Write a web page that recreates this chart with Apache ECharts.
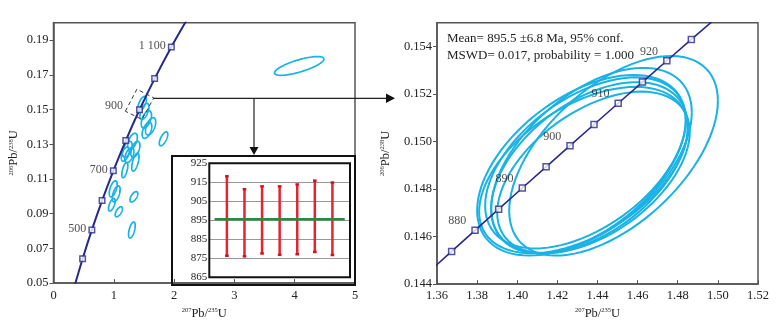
<!DOCTYPE html>
<html>
<head>
<meta charset="utf-8">
<script src="https://cdn.jsdelivr.net/npm/echarts@6/dist/echarts.min.js"></script>
<style>
html, body { margin: 0; padding: 0; background: #fff; }
#chart { width: 777px; height: 325px; }
</style>
</head>
<body>
<div id="chart"></div>
<script>
// left concordia (whole range), points every 100 Ma
const leftAges = [300, 400, 500, 600, 700, 800, 900, 1000, 1100, 1200];
const leftR75 = [0.3437, 0.4828, 0.6363, 0.8056, 0.9925, 1.1987, 1.4263, 1.6774, 1.9545, 2.2603];
const leftR68 = [0.04764, 0.06402, 0.08065, 0.09754, 0.1147, 0.13213, 0.14983, 0.1678, 0.18604, 0.2046];
const leftMarkAges = [400, 500, 600, 700, 800, 900, 1000, 1100];
const leftLabels = { 500: "500", 700: "700", 900: "900", 1100: "1 100" };

// left ellipses: centre x, half width x, centre y, half width y, rho
const leftEllX = [1.47, 1.508, 1.54, 1.61, 1.55, 1.825, 1.225, 1.31, 1.358, 1.258, 1.19, 1.358, 1.183, 0.99, 1.04, 0.967, 1.333, 1.083, 1.3, 4.075];
const leftEllSx = [0.07, 0.075, 0.085, 0.085, 0.08, 0.07, 0.08, 0.08, 0.075, 0.075, 0.065, 0.06, 0.05, 0.065, 0.065, 0.055, 0.065, 0.06, 0.055, 0.41];
const leftEllY = [0.1534, 0.1489, 0.1443, 0.1403, 0.138, 0.1331, 0.1271, 0.1317, 0.1271, 0.1237, 0.1243, 0.1197, 0.1151, 0.1043, 0.1014, 0.0951, 0.0997, 0.0911, 0.0806, 0.1751];
const leftEllSy = [0.0042, 0.0046, 0.005, 0.005, 0.0046, 0.004, 0.0046, 0.0046, 0.0046, 0.0043, 0.0041, 0.0052, 0.0044, 0.0046, 0.0046, 0.0036, 0.003, 0.0029, 0.0046, 0.0054];
const leftEllRho = [0.6, 0.55, 0.5, 0.5, 0.5, 0.65, 0.5, 0.5, 0.5, 0.5, 0.5, 0.6, 0.6, 0.55, 0.55, 0.6, 0.6, 0.6, 0.55, 0.74];

// dashed box around the zoomed part
const boxX = [1.192, 1.383, 1.663, 1.467, 1.192];
const boxY = [0.149, 0.1617, 0.1567, 0.1443, 0.149];

// inset: 206Pb/238U ages with error bars
const spotNo = [1, 2, 3, 4, 5, 6, 7];
const ageLow = [876.2, 875.9, 877.4, 876.7, 877, 878.2, 876.6];
const ageHigh = [918.3, 911.5, 913, 913, 914, 916, 915];
const meanAge = 895.5;
const meanFrom = 0.3, meanTo = 7.7;

// right concordia, points every 5 Ma
const rightAges = [865, 870, 875, 880, 885, 890, 895, 900, 905, 910, 915, 920, 925, 930, 935];
const rightR75 = [1.34409, 1.35566, 1.36729, 1.37897, 1.39072, 1.40252, 1.41438, 1.4263, 1.43827, 1.45031, 1.4624, 1.47456, 1.48678, 1.49905, 1.51139];
const rightR68 = [0.1436, 0.144488, 0.145375, 0.146264, 0.147153, 0.148043, 0.148934, 0.149825, 0.150717, 0.15161, 0.152503, 0.153398, 0.154294, 0.155189, 0.156085];
const rightMarkAges = [875, 880, 885, 890, 895, 900, 905, 910, 915, 920, 925];
const rightLabelAges = [880, 890, 900, 910, 920];

// right ellipses
const rightEllX = [1.448, 1.432, 1.434, 1.436, 1.433, 1.438, 1.437];
const rightEllSx = [0.052, 0.052, 0.05, 0.049, 0.052, 0.048, 0.05];
const rightEllY = [0.1494, 0.149, 0.1491, 0.1489, 0.1488, 0.1487, 0.1492];
const rightEllSy = [0.0042, 0.0038, 0.0036, 0.0036, 0.0035, 0.0034, 0.0039];
const rightEllRho = [0.55, 0.5, 0.5, 0.48, 0.5, 0.5, 0.52];

const leftYTicks = [0.05, 0.07, 0.09, 0.11, 0.13, 0.15, 0.17, 0.19];

const SERIF = '"Liberation Serif", "Times New Roman", serif';
const NAVY = "#27298a";
const CYAN = "#18b2e6";
const AXIS = "#555";

const chart = echarts.init(document.getElementById("chart"));

function curve(ages, xs, ys) {
  return ages.map((a, i) => [xs[i], ys[i], a]);
}
function pick(ages, xs, ys, wanted) {
  return ages.map((a, i) => [xs[i], ys[i], a]).filter((d) => wanted.indexOf(d[2]) >= 0);
}
function ellData(x, sx, y, sy, r) {
  return x.map((v, i) => [v, sx[i], y[i], sy[i], r[i]]);
}

function ellipseItem(width) {
  return function (params, api) {
    const cx = api.value(0), sx = api.value(1), cy = api.value(2), sy = api.value(3), rho = api.value(4);
    const k = Math.sqrt(1 - rho * rho);
    const pts = [];
    for (let i = 0; i <= 90; i++) {
      const t = (i / 90) * Math.PI * 2;
      pts.push(api.coord([cx + sx * Math.cos(t), cy + sy * (rho * Math.cos(t) + k * Math.sin(t))]));
    }
    return {
      type: "polyline",
      shape: { points: pts },
      style: { stroke: CYAN, lineWidth: width, fill: null },
    };
  };
}

function errorBarItem(params, api) {
  const lo = api.coord([api.value(0), api.value(1)]);
  const hi = api.coord([api.value(0), api.value(2)]);
  return {
    type: "group",
    children: [
      { type: "line", shape: { x1: lo[0], y1: lo[1], x2: hi[0], y2: hi[1] }, style: { stroke: "#e8232e", lineWidth: 2.5 } },
      { type: "rect", shape: { x: hi[0] - 1.8, y: hi[1] - 1, width: 3.6, height: 2.5 }, style: { fill: "#d0121e" } },
      { type: "rect", shape: { x: lo[0] - 1.8, y: lo[1] - 1.5, width: 3.6, height: 2.5 }, style: { fill: "#d0121e" } },
    ],
  };
}

const axisName = "{s|207}Pb/{s|235}U";
const axisNameY = "{s|206}Pb/{s|238}U";
const nameStyle = {
  fontFamily: SERIF,
  fontSize: 12.5,
  color: "#222",
  rich: { s: { fontFamily: SERIF, fontSize: 6.5, color: "#222", verticalAlign: "top", padding: [0, 0, 4, 0] } },
};
const labelStyle = { fontFamily: SERIF, fontSize: 12.5, color: "#222" };

const leftMarks = pick(leftAges, leftR75, leftR68, leftMarkAges).map((d) =>
  d[2] === 900 ? { value: d, label: { offset: [-11, -4] } } : d
);

const option = {
  animation: false,
  grid: [
    { left: 53.5, top: 22.7, width: 301.5, height: 262.3, show: true, borderColor: AXIS, borderWidth: 1.5 },
    { left: 209.3, top: 163.3, width: 140.7, height: 114, show: true, borderColor: "#111", borderWidth: 2, z: 3 },
    { left: 437, top: 22.7, width: 321, height: 264, show: true, borderColor: AXIS, borderWidth: 1.5 },
  ],
  xAxis: [
    {
      type: "value", gridIndex: 0, min: 0, max: 5, interval: 1,
      axisLine: { lineStyle: { color: AXIS, width: 1.5 } },
      axisTick: { inside: true, length: 4, lineStyle: { color: AXIS } },
      axisLabel: Object.assign({ margin: 6 }, labelStyle),
      splitLine: { show: false },
      name: axisName, nameLocation: "middle", nameGap: 10, nameTextStyle: nameStyle,
    },
    { type: "value", gridIndex: 1, min: 0, max: 8, show: false },
    {
      type: "value", gridIndex: 2, min: 1.36, max: 1.52, interval: 0.02,
      axisLine: { lineStyle: { color: AXIS, width: 1.5 } },
      axisTick: { inside: true, length: 4, lineStyle: { color: AXIS } },
      axisLabel: Object.assign({ margin: 5, formatter: (v) => v.toFixed(2) }, labelStyle),
      splitLine: { show: false },
      name: axisName, nameLocation: "middle", nameGap: 19, nameTextStyle: nameStyle,
    },
  ],
  yAxis: [
    {
      type: "value", gridIndex: 0, min: 0.05, max: 0.2,
      axisLine: { lineStyle: { color: AXIS, width: 1.5 } },
      axisTick: { length: 4, customValues: leftYTicks, lineStyle: { color: AXIS } },
      axisLabel: Object.assign({ margin: 5, customValues: leftYTicks, formatter: (v) => v.toFixed(2) }, labelStyle),
      splitLine: { show: false },
      name: axisNameY, nameLocation: "middle", nameRotate: 90, nameGap: 33, nameTextStyle: nameStyle,
    },
    {
      type: "value", gridIndex: 1, min: 865, max: 925, interval: 10,
      axisLine: { show: false }, axisTick: { show: false },
      axisLabel: { margin: 2, fontFamily: SERIF, fontSize: 11, color: "#222" },
      splitLine: { show: true, lineStyle: { color: "#999", width: 1 } },
    },
    {
      type: "value", gridIndex: 2, min: 0.144, max: 0.155, interval: 0.002,
      axisLine: { lineStyle: { color: AXIS, width: 1.5 } },
      axisTick: { length: 4, lineStyle: { color: AXIS } },
      axisLabel: Object.assign({ margin: 5, showMaxLabel: false, formatter: (v) => v.toFixed(3) }, labelStyle),
      splitLine: { show: false },
      name: axisNameY, nameLocation: "middle", nameRotate: 90, nameGap: 45, nameTextStyle: nameStyle,
    },
  ],
  series: [
    {
      type: "custom", xAxisIndex: 0, yAxisIndex: 0, z: 2,
      renderItem: ellipseItem(1.7), encode: { x: 0, y: 2 },
      data: ellData(leftEllX, leftEllSx, leftEllY, leftEllSy, leftEllRho),
    },
    {
      type: "line", xAxisIndex: 0, yAxisIndex: 0, z: 3, smooth: 0.3, showSymbol: false, clip: true,
      lineStyle: { color: NAVY, width: 2 },
      data: curve(leftAges, leftR75, leftR68),
    },
    {
      type: "scatter", xAxisIndex: 0, yAxisIndex: 0, z: 4, symbol: "rect", symbolSize: 5.5,
      itemStyle: { color: "#fff", borderColor: NAVY, borderWidth: 1.5 },
      label: {
        show: true, position: "left", distance: 2, offset: [0, -1],
        fontFamily: SERIF, fontSize: 12, color: "#222",
        formatter: (p) => leftLabels[p.value[2]] || "",
      },
      data: leftMarks,
    },
    {
      type: "line", xAxisIndex: 0, yAxisIndex: 0, z: 3, showSymbol: false,
      lineStyle: { color: "#333", width: 1, type: [4, 3] },
      data: boxX.map((v, i) => [v, boxY[i]]),
    },
    {
      type: "custom", xAxisIndex: 1, yAxisIndex: 1, z: 4,
      renderItem: errorBarItem, encode: { x: 0, y: [1, 2] },
      data: spotNo.map((n, i) => [n, ageLow[i], ageHigh[i]]),
    },
    {
      type: "line", xAxisIndex: 1, yAxisIndex: 1, z: 5, showSymbol: false,
      lineStyle: { color: "#2a8a3e", width: 2.5 },
      data: [[meanFrom, meanAge], [meanTo, meanAge]],
    },
    {
      type: "custom", xAxisIndex: 2, yAxisIndex: 2, z: 2,
      renderItem: ellipseItem(2), encode: { x: 0, y: 2 },
      data: ellData(rightEllX, rightEllSx, rightEllY, rightEllSy, rightEllRho),
    },
    {
      type: "line", xAxisIndex: 2, yAxisIndex: 2, z: 3, showSymbol: false, clip: true,
      lineStyle: { color: NAVY, width: 1.6 },
      data: curve(rightAges, rightR75, rightR68),
    },
    {
      type: "scatter", xAxisIndex: 2, yAxisIndex: 2, z: 4, symbol: "rect", symbolSize: 6,
      itemStyle: { color: "#fff", borderColor: NAVY, borderWidth: 1.5 },
      label: {
        show: true, position: "left", distance: 5, offset: [0, -9],
        fontFamily: SERIF, fontSize: 12, color: "#222",
        formatter: (p) => (rightLabelAges.indexOf(p.value[2]) >= 0 ? String(p.value[2]) : ""),
      },
      data: pick(rightAges, rightR75, rightR68, rightMarkAges),
    },
  ],
  graphic: [
    { type: "rect", z: 1, shape: { x: 172, y: 156, width: 183, height: 129 }, style: { fill: null, stroke: "#111", lineWidth: 2 } },
    { type: "line", shape: { x1: 153.3, y1: 98.3, x2: 388, y2: 98.3 }, style: { stroke: "#222", lineWidth: 1.2 } },
    { type: "polygon", shape: { points: [[386, 93.5], [395, 98.3], [386, 103.1]] }, style: { fill: "#111" } },
    { type: "line", shape: { x1: 254, y1: 98.3, x2: 254, y2: 148 }, style: { stroke: "#222", lineWidth: 1.2 } },
    { type: "polygon", shape: { points: [[249.5, 147], [258.5, 147], [254, 155]] }, style: { fill: "#111" } },
    { type: "text", left: 447, top: 32, style: { text: "Mean= 895.5 \u00b16.8 Ma, 95% conf.", font: "13px " + SERIF, fill: "#222" } },
    { type: "text", left: 447, top: 49.5, style: { text: "MSWD= 0.017, probability = 1.000", font: "13px " + SERIF, fill: "#222" } },
  ],
};

chart.setOption(option);
</script>
</body>
</html>
